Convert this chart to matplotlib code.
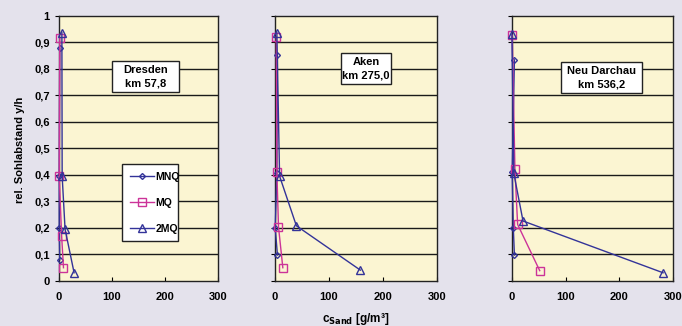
import matplotlib
matplotlib.use("Agg")
import matplotlib.pyplot as plt
from matplotlib.ticker import FuncFormatter
from matplotlib.patches import Rectangle

plt.rcParams['font.family'] = ['Liberation Sans', 'DejaVu Sans']

# Data per station: x = c_Sand [g/m³], y = rel. Sohlabstand y/h
stations = ["Dresden\nkm 57,8", "Aken\nkm 275,0", "Neu Darchau\nkm 536,2"]
series_names = ["MNQ", "MQ", "2MQ"]

dresden_mnq_x = [2, 1, 1, 2]
dresden_mnq_y = [0.877, 0.395, 0.20, 0.08]
dresden_mq_x = [2, 1, 5.5, 9]
dresden_mq_y = [0.915, 0.395, 0.17, 0.05]
dresden_2mq_x = [6, 6.5, 12, 29]
dresden_2mq_y = [0.935, 0.395, 0.195, 0.031]

aken_mnq_x = [5, 4, 1, 5]
aken_mnq_y = [0.852, 0.405, 0.20, 0.098]
aken_mq_x = [3, 4, 7, 15]
aken_mq_y = [0.92, 0.41, 0.204, 0.05]
aken_2mq_x = [4, 9, 40, 158]
aken_2mq_y = [0.935, 0.395, 0.208, 0.041]

neu_mnq_x = [5, 1, 3, 5]
neu_mnq_y = [0.833, 0.41, 0.20, 0.098]
neu_mq_x = [1, 6, 11, 52]
neu_mq_y = [0.925, 0.42, 0.213, 0.039]
neu_2mq_x = [0.5, 4, 21, 281]
neu_2mq_y = [0.93, 0.405, 0.226, 0.031]

data = [
    [(dresden_mnq_x, dresden_mnq_y), (dresden_mq_x, dresden_mq_y), (dresden_2mq_x, dresden_2mq_y)],
    [(aken_mnq_x, aken_mnq_y), (aken_mq_x, aken_mq_y), (aken_2mq_x, aken_2mq_y)],
    [(neu_mnq_x, neu_mnq_y), (neu_mq_x, neu_mq_y), (neu_2mq_x, neu_2mq_y)],
]

x_ticks = [0, 100, 200, 300]
y_ticks = [0, 0.1, 0.2, 0.3, 0.4, 0.5, 0.6, 0.7, 0.8, 0.9, 1.0]

colors = ["#333399", "#CC3399", "#333399"]
markers = ["D", "s", "^"]
msizes = [3.0, 5.5, 5.5]

W, H = 682, 326
fig = plt.figure(figsize=(W / 100, H / 100), dpi=100)
fig.patch.set_facecolor("#E4E2EC")

lefts = [58.7, 274.7, 511.7]
widths = [159.3, 162.6, 161.6]
top, bottom = 15.5, 281
# label boxes in pixel coordinates: (x0, y0_top, x1, y1_bottom)
label_boxes = [(112, 61, 179, 92), (341, 52.7, 391, 84), (560.7, 61.7, 641.7, 93.3)]

def yfmt(v, pos):
    if abs(v) < 1e-9:
        return "0"
    if abs(v - 1) < 1e-9:
        return "1"
    return ("%.1f" % v).replace(".", ",")

axes = []
for i in range(3):
    ax = fig.add_axes([lefts[i] / W, (H - bottom) / H, widths[i] / W, (bottom - top) / H])
    ax.set_facecolor("#FBF5D2")
    ax.set_xlim(0, 300)
    ax.set_ylim(0, 1)
    ax.set_xticks(x_ticks)
    ax.set_yticks(y_ticks)
    for yv in y_ticks[1:-1]:
        ax.axhline(yv, color="#1a1a1a", lw=1.0, zorder=1)
    for sp in ax.spines.values():
        sp.set_color("#222222")
        sp.set_linewidth(1.0)
    ax.tick_params(axis="x", direction="in", length=3, labelsize=8, pad=8)
    ax.tick_params(axis="y", direction="out", length=3, labelsize=8)
    if i == 0:
        ax.yaxis.set_major_formatter(FuncFormatter(yfmt))
    else:
        ax.set_yticklabels([])
    for lab in ax.get_xticklabels() + ax.get_yticklabels():
        lab.set_fontweight("bold")
    for j in range(3):
        xs, ys = data[i][j]
        ax.plot(xs, ys, color=colors[j], lw=1.0, marker=markers[j], ms=msizes[j],
                mfc="none", mec=colors[j], mew=1.0, label=series_names[j], zorder=3,
                clip_on=False)
    x0, y0, x1, y1 = label_boxes[i]
    fig.patches.append(Rectangle((x0 / W, 1 - y1 / H), (x1 - x0) / W, (y1 - y0) / H,
                                 transform=fig.transFigure, fc="white", ec="#222222",
                                 lw=1.0, zorder=5))
    fig.text((x0 + x1) / 2 / W, 1 - (y0 + y1) / 2 / H, stations[i], ha="center",
             va="center", fontsize=8, fontweight="bold", linespacing=1.45, zorder=6)
    axes.append(ax)

leg = axes[0].legend(loc="lower left", bbox_to_anchor=(0.40, 0.15, 0.35, 0.297),
                     mode="expand", fontsize=7.5, frameon=True, fancybox=False,
                     framealpha=1.0, facecolor="white",
                     edgecolor="#222222", handlelength=2.3, labelspacing=1.55,
                     borderpad=0.7, handletextpad=0.15, borderaxespad=0)
leg.get_frame().set_linewidth(1.0)
for t in leg.get_texts():
    t.set_fontweight("bold")

fig.text(20 / W, 1 - 150 / H, "rel. Sohlabstand y/h", rotation=90, ha="center",
         va="center", fontsize=8, fontweight="bold")
fig.text(356 / W, 1 - 319 / H, r"c$_{\mathbf{Sand}}$ [g/m³]", ha="center", va="center",
         fontsize=8.5, fontweight="bold")

fig.savefig("out.png", dpi=100, facecolor=fig.get_facecolor())
